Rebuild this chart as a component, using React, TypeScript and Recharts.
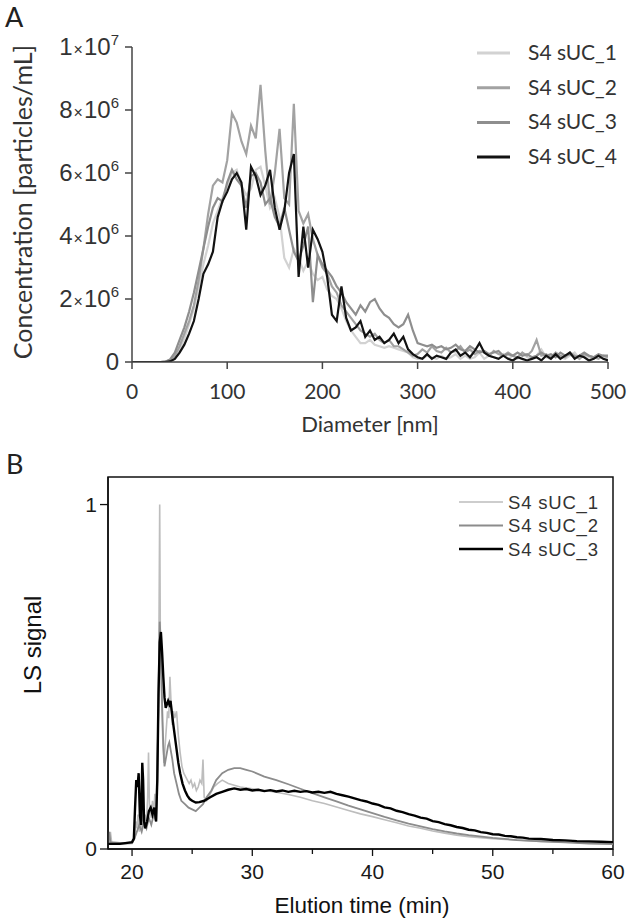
import React from 'react';
import { LineChart, Line, XAxis, YAxis, Legend, ReferenceArea, Label } from 'recharts';

// ---------------- Panel A data (NTA size distribution) ----------------
const diameters = [
  0, 5, 10, 15, 20, 25, 30, 35, 40, 45, 50, 55, 60, 65, 70, 75, 80, 85, 90, 95,
  100, 105, 110, 115, 120, 125, 130, 135, 140, 145, 150, 155, 160, 165, 170, 175, 180, 185, 190, 195,
  200, 205, 210, 215, 220, 225, 230, 235, 240, 245, 250, 255, 260, 265, 270, 275, 280, 285, 290, 295,
  300, 305, 310, 315, 320, 325, 330, 335, 340, 345, 350, 355, 360, 365, 370, 375, 380, 385, 390, 395,
  400, 405, 410, 415, 420, 425, 430, 435, 440, 445, 450, 455, 460, 465, 470, 475, 480, 485, 490, 495, 500,
];
// concentrations in units of 10^6 particles/mL
const concS1 = [
  0, 0, 0, 0, 0, 0, 0, 0.02, 0.05, 0.15, 0.4, 0.75, 1.2, 1.7, 2.4, 3.1, 3.7, 4.4, 4.8, 5.2,
  5.6, 6.0, 6.1, 5.6, 5.3, 5.5, 6.1, 6.2, 5.6, 4.9, 5.2, 4.6, 3.3, 3.0, 3.6, 3.3, 2.9, 3.2, 2.8, 2.6,
  2.7, 2.3, 2.1, 2.0, 1.7, 1.3, 1.0, 0.8, 0.6, 0.6, 0.7, 0.55, 0.5, 0.45, 0.5, 0.45, 0.4, 0.35, 0.3, 0.15,
  0.1, 0.1, 0.2, 0.15, 0.1, 0.2, 0.1, 0.15, 0.25, 0.1, 0.2, 0.1, 0.15, 0.3, 0.1, 0.2, 0.15, 0.1, 0.25, 0.1,
  0.2, 0.1, 0.3, 0.15, 0.1, 0.2, 0.4, 0.15, 0.1, 0.3, 0.15, 0.1, 0.2, 0.3, 0.1, 0.2, 0.15, 0.1, 0.2, 0.15, 0.1,
];
const concS2 = [
  0, 0, 0, 0, 0, 0, 0, 0.01, 0.05, 0.2, 0.5, 0.9, 1.3, 1.8, 2.6, 3.6, 4.7, 5.6, 5.8, 5.7,
  6.4, 7.9, 7.6, 7.0, 6.6, 7.5, 7.1, 8.8, 6.7, 5.0, 6.0, 7.4, 5.2, 5.0, 8.2, 4.8, 4.4, 4.7, 3.9, 3.4,
  3.0, 2.8, 2.4, 2.2, 1.8, 1.6, 1.4, 1.2, 1.0, 0.9, 0.8, 0.9, 0.7, 0.6, 0.7, 0.5, 0.5, 0.4, 0.3, 0.2,
  0.25, 0.4, 0.3, 0.5, 0.35, 0.3, 0.45, 0.3, 0.35, 0.5, 0.3, 0.4, 0.25, 0.35, 0.3, 0.2, 0.35, 0.25, 0.2, 0.3,
  0.2, 0.15, 0.3, 0.2, 0.35, 0.7, 0.2, 0.25, 0.15, 0.3, 0.2, 0.15, 0.3, 0.2, 0.1, 0.25, 0.2, 0.15, 0.1, 0.2, 0.15,
];
const concS3 = [
  0, 0, 0, 0, 0, 0, 0, 0.01, 0.08, 0.3, 0.7, 1.1, 1.6, 2.2, 2.9, 3.6, 4.3, 4.9, 5.2, 5.1,
  5.7, 6.1, 5.8, 5.6, 4.9, 5.9, 6.0, 5.7, 5.0, 5.2, 4.6, 4.3, 4.9, 4.2, 3.5, 3.2, 3.7, 4.3, 1.9, 3.4,
  3.1, 2.9, 2.7, 2.4, 2.2, 1.9, 1.7, 1.5, 1.8, 1.6, 1.9, 2.0, 1.7, 1.5, 1.4, 1.2, 1.1, 1.2, 1.5, 1.0,
  0.6, 0.55, 0.5, 0.55, 0.45, 0.5, 0.4, 0.45, 0.55, 0.4, 0.35, 0.5, 0.4, 0.3, 0.35, 0.25, 0.3, 0.35, 0.2, 0.25,
  0.2, 0.3, 0.2, 0.25, 0.15, 0.2, 0.3, 0.2, 0.25, 0.15, 0.3, 0.2, 0.25, 0.15, 0.2, 0.3, 0.2, 0.15, 0.25, 0.2, 0.2,
];
const concS4 = [
  0, 0, 0, 0, 0, 0, 0, 0, 0.02, 0.1, 0.3, 0.55, 0.9, 1.3, 2.0, 2.8, 3.1, 3.5, 4.6, 5.1,
  5.4, 5.8, 6.0, 5.7, 4.2, 6.2, 5.9, 5.3, 5.6, 6.1, 4.9, 4.2, 4.8, 6.0, 6.6, 2.7, 4.3, 3.0, 4.2, 3.9,
  3.5, 2.7, 1.5, 1.3, 2.4, 1.4, 1.0, 1.1, 1.3, 0.8, 1.0, 0.7, 0.8, 0.6, 0.7, 0.9, 0.6, 0.8, 0.4, 0.25,
  0.15, 0.1, 0.25, 0.1, 0.2, 0.15, 0.1, 0.3, 0.4, 0.2, 0.3, 0.15, 0.35, 0.6, 0.3, 0.2, 0.15, 0.1, 0.2, 0.1,
  0.05, 0.15, 0.1, 0.05, 0.1, 0.15, 0.05, 0.2, 0.1, 0.25, 0.1, 0.2, 0.3, 0.1, 0.2, 0.15, 0.05, 0.1, 0.2, 0.1, 0.05,
];
const namesA = ['S4 sUC_1', 'S4 sUC_2', 'S4 sUC_3', 'S4 sUC_4'];
const diamTicks = [0, 100, 200, 300, 400, 500];
const concTicks = [0, 2e6, 4e6, 6e6, 8e6, 1e7];

// ---------------- Panel B data (AF4 light scattering) ----------------
const ls1: [number, number][] = [
  [18.0, 0.015], [18.15, 0.02], [18.2, 0.05], [18.3, 0.02], [18.6, 0.015], [19.0, 0.015], [19.5, 0.015], [20.0, 0.016],
  [20.2, 0.03], [20.3, 0.08], [20.4, 0.06], [20.5, 0.1], [20.6, 0.05], [20.7, 0.09], [20.8, 0.06], [20.9, 0.12],
  [21.0, 0.07], [21.1, 0.1], [21.2, 0.08], [21.3, 0.15], [21.37, 0.28], [21.45, 0.12], [21.6, 0.09], [21.7, 0.14],
  [21.8, 0.1], [21.9, 0.16], [22.0, 0.12], [22.1, 0.25], [22.2, 0.4], [22.3, 1.0], [22.36, 0.55], [22.45, 0.45],
  [22.55, 0.32], [22.65, 0.25], [22.75, 0.3], [22.85, 0.35], [22.95, 0.4], [23.05, 0.38], [23.15, 0.5], [23.25, 0.42],
  [23.35, 0.36], [23.45, 0.4], [23.55, 0.38], [23.7, 0.4], [23.85, 0.33], [24.0, 0.28], [24.15, 0.24], [24.3, 0.22],
  [24.45, 0.21], [24.6, 0.2], [24.75, 0.19], [24.9, 0.2], [25.05, 0.18], [25.2, 0.19], [25.35, 0.17], [25.5, 0.18],
  [25.65, 0.2], [25.8, 0.19], [25.9, 0.26], [26.0, 0.15], [26.2, 0.14], [26.5, 0.16], [26.8, 0.18], [27.1, 0.19],
  [27.5, 0.2], [28.0, 0.19], [28.5, 0.185], [29.0, 0.18], [30.0, 0.175], [31.0, 0.17], [32.0, 0.165], [33.0, 0.158],
  [34.0, 0.15], [35.0, 0.14], [36.0, 0.132], [37.0, 0.122], [38.0, 0.112], [39.0, 0.102], [40.0, 0.094], [41.0, 0.085],
  [42.0, 0.076], [43.0, 0.067], [44.0, 0.06], [45.0, 0.052], [46.0, 0.046], [47.0, 0.04], [48.0, 0.036], [50.0, 0.03],
  [52.0, 0.026], [54.0, 0.022], [56.0, 0.02], [58.0, 0.018], [60.0, 0.016],
];
const ls2: [number, number][] = [
  [18.0, 0.02], [18.1, 0.05], [18.2, 0.02], [19.0, 0.018], [20.0, 0.018], [20.2, 0.03], [20.4, 0.05], [20.6, 0.07],
  [20.8, 0.05], [21.0, 0.08], [21.2, 0.06], [21.4, 0.09], [21.6, 0.07], [21.8, 0.1], [22.0, 0.08], [22.1, 0.2],
  [22.2, 0.45], [22.3, 0.66], [22.4, 0.6], [22.5, 0.42], [22.6, 0.3], [22.7, 0.24], [22.8, 0.26], [22.9, 0.28],
  [23.0, 0.3], [23.1, 0.31], [23.2, 0.29], [23.35, 0.26], [23.5, 0.22], [23.7, 0.19], [23.9, 0.16], [24.1, 0.14],
  [24.4, 0.13], [24.7, 0.12], [25.0, 0.115], [25.3, 0.11], [25.6, 0.12], [25.9, 0.13], [26.2, 0.15], [26.6, 0.17],
  [27.0, 0.2], [27.5, 0.22], [28.0, 0.23], [28.5, 0.235], [29.0, 0.235], [29.5, 0.23], [30.0, 0.225], [31.0, 0.21],
  [32.0, 0.2], [33.0, 0.188], [34.0, 0.175], [35.0, 0.162], [36.0, 0.15], [37.0, 0.138], [38.0, 0.126], [39.0, 0.115],
  [40.0, 0.104], [41.0, 0.093], [42.0, 0.083], [43.0, 0.074], [44.0, 0.066], [45.0, 0.058], [46.0, 0.051], [47.0, 0.045],
  [48.0, 0.04], [50.0, 0.032], [52.0, 0.026], [54.0, 0.022], [56.0, 0.019], [58.0, 0.016], [60.0, 0.014],
];
const ls3: [number, number][] = [
  [18.0, 0.015], [19.0, 0.015], [20.0, 0.02], [20.15, 0.03], [20.25, 0.12], [20.35, 0.2], [20.45, 0.18], [20.55, 0.22],
  [20.65, 0.1], [20.75, 0.07], [20.85, 0.25], [20.92, 0.2], [21.0, 0.08], [21.1, 0.06], [21.25, 0.08], [21.4, 0.11],
  [21.55, 0.12], [21.7, 0.1], [21.85, 0.12], [22.0, 0.08], [22.1, 0.2], [22.2, 0.45], [22.3, 0.6], [22.4, 0.63],
  [22.5, 0.57], [22.6, 0.5], [22.7, 0.44], [22.8, 0.41], [22.9, 0.42], [23.0, 0.43], [23.1, 0.42], [23.2, 0.43],
  [23.3, 0.4], [23.4, 0.37], [23.55, 0.33], [23.7, 0.29], [23.85, 0.25], [24.0, 0.22], [24.2, 0.19], [24.4, 0.17],
  [24.6, 0.155], [24.8, 0.145], [25.0, 0.14], [25.3, 0.135], [25.6, 0.136], [26.0, 0.14], [26.5, 0.15], [27.0, 0.16],
  [27.5, 0.166], [28.0, 0.172], [28.5, 0.176], [29.0, 0.172], [29.5, 0.174], [30.0, 0.17], [30.5, 0.172], [31.0, 0.168],
  [31.5, 0.171], [32.0, 0.167], [32.5, 0.17], [33.0, 0.166], [33.5, 0.169], [34.0, 0.166], [34.5, 0.168], [35.0, 0.164],
  [35.5, 0.166], [36.0, 0.163], [36.5, 0.166], [37.0, 0.16], [37.5, 0.156], [38.0, 0.152], [38.5, 0.147], [39.0, 0.142],
  [39.5, 0.138], [40.0, 0.132], [40.5, 0.128], [41.0, 0.121], [41.5, 0.118], [42.0, 0.111], [42.5, 0.107], [43.0, 0.101],
  [43.5, 0.097], [44.0, 0.091], [44.5, 0.088], [45.0, 0.081], [45.5, 0.078], [46.0, 0.072], [46.5, 0.069], [47.0, 0.064],
  [47.5, 0.061], [48.0, 0.056], [48.5, 0.054], [49.0, 0.049], [49.5, 0.047], [50.0, 0.043], [50.5, 0.042], [51.0, 0.038],
  [51.5, 0.037], [52.0, 0.034], [52.5, 0.033], [53.0, 0.03], [54.0, 0.029], [55.0, 0.026], [56.0, 0.025], [57.0, 0.023],
  [58.0, 0.022], [59.0, 0.021], [60.0, 0.02],
];
const namesB = ['S4 sUC_1', 'S4 sUC_2', 'S4 sUC_3'];
const elutionTicks = [20, 25, 30, 35, 40, 45, 50, 55, 60];
const lsTicks = [0, 1];

// ---------------- styles ----------------
const FONT_A = 'Lato, "Open Sans", sans-serif';
const FONT_B = '"Liberation Sans", Arial, sans-serif';
const colorsA = ['#d2d2d2', '#a2a2a2', '#8e8e8e', '#121212'];
const colorsB = ['#bdbdbd', '#8c8c8c', '#000000'];
const widthsB = [1.6, 1.8, 2.4];

const tableA = diameters.map((d, i) => ({
  d,
  s1: concS1[i] * 1e6,
  s2: concS2[i] * 1e6,
  s3: concS3[i] * 1e6,
  s4: concS4[i] * 1e6,
}));
const toRows = (arr: [number, number][]) => arr.map(([t, v]) => ({ t, v }));
const seriesB = [toRows(ls1), toRows(ls2), toRows(ls3)];

function PowTick(props: any) {
  const { x, y, payload } = props;
  const v = payload.value as number;
  const common = { fontFamily: FONT_B, fill: '#333' };
  if (v === 0) {
    return (
      <text x={x} y={y + 8} textAnchor="end" fontSize={24} {...common}>0</text>
    );
  }
  const exp = Math.floor(Math.log10(v) + 1e-9);
  const mant = Math.round(v / Math.pow(10, exp));
  return (
    <text x={x} y={y + 8} textAnchor="end" fontSize={24} {...common}>
      <tspan>{mant}</tspan>
      <tspan fontSize={16} dx={1}>×</tspan>
      <tspan dx={1}>10</tspan>
      <tspan fontSize={15} dy={-10}>{exp}</tspan>
    </text>
  );
}

function DiamTick(props: any) {
  const { x, y, payload } = props;
  return (
    <g>
      <line x1={x} x2={x} y1={y} y2={y + 7} stroke="#444" strokeWidth={1.5} />
      <text x={x} y={y + 37} textAnchor="middle" fontSize={21} fontFamily={FONT_A} fill="#333">
        {payload.value}
      </text>
    </g>
  );
}

function TimeTick(props: any) {
  const { x, y, payload } = props;
  const major = payload.value % 10 === 0;
  return (
    <g>
      <line x1={x} x2={x} y1={y} y2={y + (major ? 7 : 5)} stroke="#111" strokeWidth={1.3} />
      {major && (
        <text x={x} y={y + 30} textAnchor="middle" fontSize={21} fontFamily={FONT_B} fill="#1a1a1a">
          {payload.value}
        </text>
      )}
    </g>
  );
}

function LegendA() {
  return (
    <svg width={160} height={140}>
      {namesA.map((n, i) => (
        <g key={n}>
          <line x1={7} x2={40} y1={18 + i * 34.7} y2={18 + i * 34.7} stroke={colorsA[i]} strokeWidth={3} />
          <text x={58} y={18 + i * 34.7 + 7} fontSize={21} fontFamily={FONT_A} fill="#333">{n}</text>
        </g>
      ))}
    </svg>
  );
}

function LegendB() {
  return (
    <svg width={170} height={80}>
      {namesB.map((n, i) => (
        <g key={n}>
          <line x1={9} x2={53} y1={17 + i * 23.5} y2={17 + i * 23.5} stroke={colorsB[i]} strokeWidth={widthsB[i]} />
          <text x={58} y={17 + i * 23.5 + 6.5} fontSize={18.5} letterSpacing={0.8} fontFamily={FONT_B} fill="#333">{n}</text>
        </g>
      ))}
    </svg>
  );
}

export default function App() {
  return (
    <div style={{ position: 'absolute', left: 0, top: 0, width: 630, height: 921, background: '#fff', overflow: 'hidden' }}>
      <div style={{ position: 'absolute', left: 0, top: 0 }}>
        <LineChart width={630} height={440} data={tableA} margin={{ top: 47, right: 22, bottom: 0, left: 0 }}>
          <XAxis
            dataKey="d"
            type="number"
            domain={[0, 500]}
            ticks={diamTicks}
            tick={<DiamTick />}
            tickLine={false}
            tickSize={0}
            tickMargin={0}
            height={78}
            axisLine={{ stroke: '#444', strokeWidth: 1.5 }}
            allowDataOverflow
          >
            <Label
              content={() => (
                <text x={370} y={432} textAnchor="middle" fontSize={22} fontFamily={FONT_A} fill="#333">
                  Diameter [nm]
                </text>
              )}
            />
          </XAxis>
          <YAxis
            type="number"
            domain={[0, 1e7]}
            ticks={concTicks}
            tick={<PowTick />}
            width={132}
            tickSize={7}
            tickMargin={6}
            tickLine={{ stroke: '#444', strokeWidth: 1.5 }}
            axisLine={{ stroke: '#444', strokeWidth: 1.5 }}
            allowDataOverflow
          >
            <Label
              content={() => (
                <text
                  transform="translate(32,202) rotate(-90)"
                  textAnchor="middle"
                  fontSize={25}
                  fontFamily={FONT_A}
                  fill="#333"
                >
                  Concentration [particles/mL]
                </text>
              )}
            />
          </YAxis>
          <Line dataKey="s1" stroke={colorsA[0]} strokeWidth={2.2} dot={false} isAnimationActive={false} />
          <Line dataKey="s2" stroke={colorsA[1]} strokeWidth={2.2} dot={false} isAnimationActive={false} />
          <Line dataKey="s3" stroke={colorsA[2]} strokeWidth={2.2} dot={false} isAnimationActive={false} />
          <Line dataKey="s4" stroke={colorsA[3]} strokeWidth={2.2} dot={false} isAnimationActive={false} />
          <Legend
            layout="vertical"
            align="center"
            verticalAlign="middle"
            content={<LegendA />}
            wrapperStyle={{ left: 470, top: 35, width: 160, height: 140 }}
          />
        </LineChart>
      </div>

      <div style={{ position: 'absolute', left: 0, top: 440 }}>
        <LineChart width={630} height={481} margin={{ top: 37, right: 17, bottom: 0, left: 0 }}>
          <XAxis
            dataKey="t"
            type="number"
            domain={[18, 60]}
            ticks={elutionTicks}
            tick={<TimeTick />}
            tickLine={false}
            tickSize={0}
            tickMargin={0}
            height={72}
            axisLine={{ stroke: '#111', strokeWidth: 1.5 }}
            allowDataOverflow
          >
            <Label
              content={() => (
                <text x={362} y={473} textAnchor="middle" fontSize={22.5} fontFamily={FONT_B} fill="#111">
                  Elution time (min)
                </text>
              )}
            />
          </XAxis>
          <YAxis
            type="number"
            domain={[0, 1.08]}
            ticks={lsTicks}
            width={108}
            tickSize={8}
            tickMargin={3}
            tick={{ fontSize: 21, fontFamily: FONT_B, fill: '#1a1a1a' }}
            tickLine={{ stroke: '#111', strokeWidth: 1.3 }}
            axisLine={{ stroke: '#111', strokeWidth: 1.5 }}
            allowDataOverflow
          >
            <Label
              content={() => (
                <text
                  transform="translate(41,205) rotate(-90)"
                  textAnchor="middle"
                  fontSize={24}
                  fontFamily={FONT_B}
                  fill="#111"
                >
                  LS signal
                </text>
              )}
            />
          </YAxis>
          <ReferenceArea x1={18} x2={60} y1={0} y2={1.08} fill="none" stroke="#111" strokeWidth={1.5} ifOverflow="visible" />
          {seriesB.map((rows, i) => (
            <Line
              key={namesB[i]}
              data={rows}
              dataKey="v"
              name={namesB[i]}
              stroke={colorsB[i]}
              strokeWidth={widthsB[i]}
              dot={false}
              isAnimationActive={false}
            />
          ))}
          <Legend
            layout="vertical"
            align="center"
            verticalAlign="middle"
            content={<LegendB />}
            wrapperStyle={{ left: 450, top: 45, width: 170, height: 80 }}
          />
        </LineChart>
      </div>

      <svg style={{ position: 'absolute', left: 0, top: 0 }} width={630} height={921}>
        <text x={5} y={27} fontSize={27} fontFamily={FONT_A} fill="#222">A</text>
        <text x={6} y={474} fontSize={27} fontFamily={FONT_A} fill="#222">B</text>
      </svg>
    </div>
  );
}
